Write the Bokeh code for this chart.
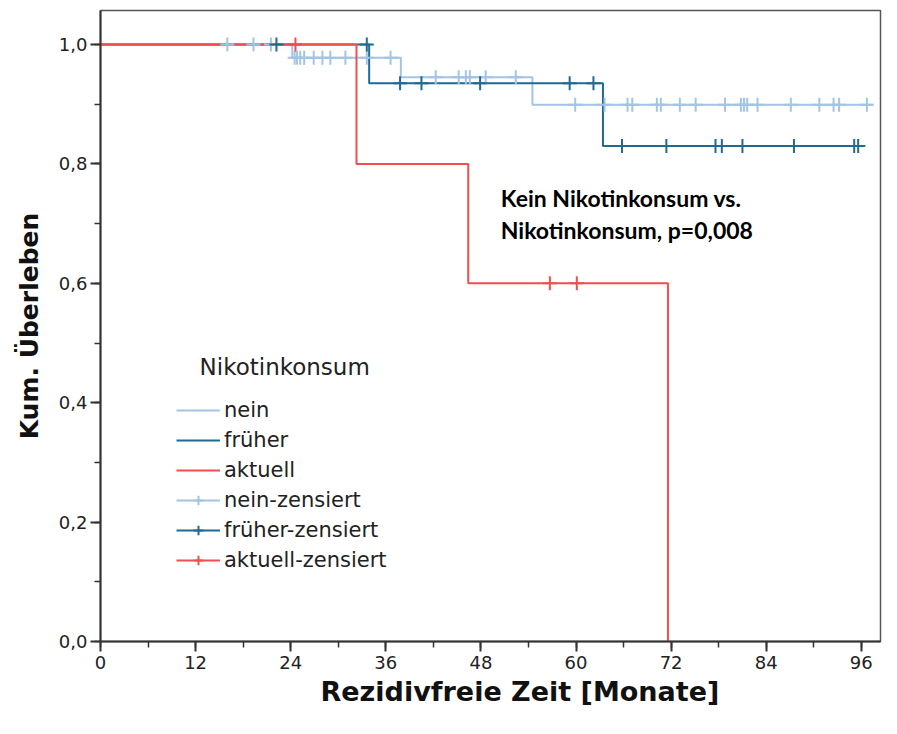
import numpy as np
from bokeh.plotting import figure
from bokeh.models import (Range1d, SingleIntervalTicker, CustomJSTickFormatter,
                          Legend, LegendItem, Label, Title, ColumnDataSource)
from bokeh.embed import file_html
from bokeh.resources import INLINE

# ---- data ----
# survival step functions: change times (months) and survival after each change
nein_t = [0, 24.2, 37.9, 54.5, 97.4]
nein_s = [1.0, 0.978, 0.945, 0.899, 0.899]
frueher_t = [0, 33.9, 63.4, 96.5]
frueher_s = [1.0, 0.935, 0.83, 0.83]
aktuell_t = [0, 32.3, 46.4, 71.6]
aktuell_s = [1.0, 0.8, 0.6, 0.0]

# censoring times (months)
nein_c = [16.0, 19.3, 21.5,
          24.5, 24.8, 25.2, 25.7, 26.9, 28.0, 29.0, 30.9, 33.6, 36.6,
          42.3, 45.2, 46.1, 46.6, 48.6, 52.4,
          59.9, 63.6, 66.5, 67.1, 70.2, 70.7, 73.1, 75.1, 78.8, 80.8, 81.2,
          81.6, 82.9, 87.1, 90.7, 92.5, 93.2, 96.7]
frueher_c = [22.2, 33.6, 37.8, 40.5, 47.9, 59.2, 62.2,
             65.8, 71.4, 77.6, 78.4, 81.0, 87.5, 95.1, 95.6]
aktuell_c = [24.6, 56.7, 60.1]

group_names = ["nein", "früher", "aktuell"]
colors = ["#a3c4e3", "#1f6a93", "#ee4f4f"]


def surv_at(times, surv, t):
    idx = np.searchsorted(np.array(times), np.array(t), side="right") - 1
    return list(np.array(surv)[idx])


p = figure(width=888, height=726, x_range=Range1d(0, 98.42), y_range=Range1d(0, 1.057),
           output_backend="svg", toolbar_location=None,
           min_border_left=100, min_border_right=8, min_border_top=10, min_border_bottom=85)
p.background_fill_color = "white"
p.border_fill_color = "white"
p.xgrid.visible = False
p.ygrid.visible = False
p.outline_line_color = "#555555"
p.outline_line_width = 1.5

p.xaxis.ticker = SingleIntervalTicker(interval=12, num_minor_ticks=2)
p.yaxis.ticker = SingleIntervalTicker(interval=0.2, num_minor_ticks=2)
p.yaxis.formatter = CustomJSTickFormatter(code="return tick.toFixed(1).replace('.', ',');")

for ax in (p.xaxis[0], p.yaxis[0]):
    ax.axis_line_color = "#333333"
    ax.axis_line_width = 2
    ax.major_tick_line_color = "#333333"
    ax.major_tick_line_width = 2
    ax.minor_tick_line_color = "#333333"
    ax.minor_tick_line_width = 1.5
    ax.major_tick_out = 10
    ax.major_tick_in = 0
    ax.minor_tick_out = 6
    ax.minor_tick_in = 0
    ax.major_label_text_font = "DejaVu Sans"
    ax.major_label_text_font_size = "18px"
    ax.major_label_text_color = "#222222"
    ax.axis_label_text_font = "DejaVu Sans"
    ax.axis_label_text_font_style = "bold"
    ax.axis_label_text_font_size = "25px"
    ax.axis_label_text_color = "#111111"

p.yaxis.axis_label = "Kum. Überleben"
p.xaxis.major_label_standoff = 4
p.yaxis.major_label_standoff = 3
p.yaxis.axis_label_standoff = 12

# x axis title, placed like the reference (slightly right of centre)
xtitle = Title(text="Rezidivfreie Zeit [Monate]", align="left", offset=220, standoff=4,
               text_font="DejaVu Sans", text_font_style="bold", text_font_size="27px",
               text_color="#111111")
p.add_layout(xtitle, "below")

steps = [(nein_t, nein_s), (frueher_t, frueher_s), (aktuell_t, aktuell_s)]
cens = [nein_c, frueher_c, aktuell_c]

line_r = []
cens_r = []
for (t, s), c, col in zip(steps, cens, colors):
    lr = p.step(x=t, y=s, mode="after", line_color=col, line_width=2)
    line_r.append(lr)
for (t, s), c, col in zip(steps, cens, colors):
    src = ColumnDataSource(dict(x=c, y=surv_at(t, s, c)))
    cr = p.scatter(x="x", y="y", source=src, marker="cross", size=14,
                   line_color=col, line_width=2)
    cens_r.append(cr)

items = []
for name, lr in zip(group_names, line_r):
    items.append(LegendItem(label=name, renderers=[lr]))
for name, lr, cr in zip(group_names, line_r, cens_r):
    items.append(LegendItem(label=name + "-zensiert", renderers=[lr, cr]))

legend = Legend(items=items, location=(76, 69), orientation="vertical",
                glyph_width=44, glyph_height=24, label_height=24, spacing=6,
                label_standoff=4, padding=0, margin=0,
                label_text_font="DejaVu Sans", label_text_font_size="21px",
                label_text_color="#222222",
                border_line_alpha=0, background_fill_alpha=0)
p.add_layout(legend, "center")

p.add_layout(Label(x=12.5, y=0.4595, text="Nikotinkonsum", text_baseline="middle",
                   text_font="DejaVu Sans", text_font_size="23px", text_color="#222222"))
p.add_layout(Label(x=50.5, y=0.743, text="Kein Nikotinkonsum vs.", text_baseline="middle",
                   text_font="Lato", text_font_style="bold", text_font_size="23px",
                   text_color="#000000"))
p.add_layout(Label(x=50.5, y=0.690, text="Nikotinkonsum, p=0,008", text_baseline="middle",
                   text_font="Lato", text_font_style="bold", text_font_size="23px",
                   text_color="#000000"))

open("out.html", "w").write(file_html(p, INLINE))
